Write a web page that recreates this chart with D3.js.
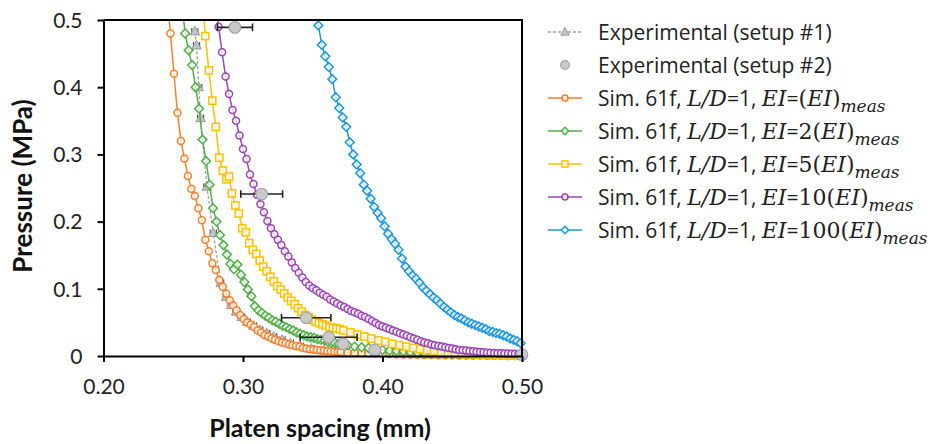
<!DOCTYPE html>
<html><head><meta charset="utf-8">
<script src="https://cdn.jsdelivr.net/npm/d3@7"></script>
<style>body{margin:0;background:#fff;} svg{display:block;}</style>
</head><body>
<svg id="c" width="933" height="444"></svg>
<script>
// ---------------- data ----------------
const xTicks = [0.20, 0.30, 0.40, 0.50];
const yTicks = [0, 0.1, 0.2, 0.3, 0.4, 0.5];
const xTitle = "Platen spacing (mm)";
const yTitle = "Pressure (MPa)";

// Experimental setup #1: [spacing, pressure, +/- spacing error]
const setup1 = [
 [0.2655,0.483,0.0022],[0.2667,0.462,0.0022],[0.2683,0.400,0.0022],[0.2696,0.354,0.0022],
 [0.2741,0.252,0.0022],[0.2787,0.183,0.0022],[0.2840,0.109,0.0022],[0.2880,0.088,0.0022],
 [0.2915,0.076,0.0022],[0.2950,0.066,0.0022],[0.2990,0.058,0.0022],[0.3030,0.051,0.0022],
 [0.3075,0.045,0.0022],[0.3120,0.039,0.0022],[0.3170,0.034,0.0022],[0.3220,0.029,0.0022],
 [0.3280,0.024,0.0022],[0.3340,0.019,0.0022],[0.3410,0.015,0.0022],[0.3490,0.011,0.0022],
 [0.3580,0.008,0.0022],[0.3680,0.005,0.0022]
];
// Experimental setup #2: [spacing, pressure, +/- spacing error]
const setup2 = [
 [0.2942,0.489,0.0126],[0.3134,0.241,0.0150],[0.3453,0.057,0.0177],[0.3614,0.028,0.0204],
 [0.3717,0.018,0],[0.3945,0.009,0],[0.5000,0.002,0]
];

const simOrange = [
 [0.2455,0.535],[0.2480,0.480],[0.2505,0.420],[0.2530,0.362],[0.2555,0.320],[0.2580,0.294],
 [0.2605,0.268],[0.2630,0.249],[0.2655,0.238],[0.2680,0.220],[0.2705,0.202],[0.2730,0.173],
 [0.2755,0.156],[0.2780,0.138],[0.2805,0.128],[0.2830,0.113],[0.2855,0.103],[0.2880,0.093],
 [0.2905,0.083],[0.2930,0.075],[0.2955,0.068],[0.2980,0.061],[0.3005,0.055],[0.3030,0.050],
 [0.3055,0.047],[0.3080,0.043],[0.3105,0.038],[0.3130,0.035],[0.3155,0.031],[0.3180,0.029],
 [0.3205,0.026],[0.3230,0.024],[0.3255,0.022],[0.3280,0.020],[0.3305,0.019],[0.3330,0.017],
 [0.3355,0.016],[0.3380,0.015],[0.3405,0.014],[0.3430,0.012],[0.3455,0.011],[0.3480,0.010],
 [0.3505,0.0095],[0.3530,0.009],[0.3555,0.0085],[0.3580,0.008],[0.3605,0.0075],[0.3630,0.007],
 [0.3655,0.0065],[0.3680,0.006],[0.3700,0.0058],[0.3750,0.0053],[0.3800,0.0048],[0.3850,0.0043],
 [0.3900,0.004],[0.3950,0.0036],[0.4000,0.0032],[0.4050,0.0029],[0.4100,0.0026],[0.4150,0.0023],
 [0.4200,0.002],[0.4250,0.0018],[0.4300,0.0016],[0.4350,0.0014],[0.4400,0.0013],[0.4450,0.0011],
 [0.4500,0.001],[0.4550,0.0009],[0.4600,0.0008],[0.4650,0.0007],[0.4700,0.0006],[0.4750,0.0005],
 [0.4800,0.0005],[0.4850,0.0004],[0.4900,0.0004],[0.4950,0.0003],[0.5000,0.0003]
];
const simGreen = [
 [0.2560,0.530],[0.2585,0.480],[0.2610,0.455],[0.2635,0.433],[0.2660,0.400],[0.2685,0.368],
 [0.2710,0.322],[0.2735,0.290],[0.2760,0.255],[0.2785,0.220],[0.2810,0.200],[0.2835,0.180],
 [0.2860,0.165],[0.2885,0.151],[0.2910,0.137],[0.2935,0.129],[0.2960,0.136],[0.2985,0.121],
 [0.3010,0.110],[0.3035,0.099],[0.3060,0.089],[0.3085,0.074],[0.3110,0.068],[0.3135,0.064],
 [0.3160,0.060],[0.3185,0.057],[0.3210,0.053],[0.3235,0.051],[0.3260,0.048],[0.3285,0.045],
 [0.3310,0.043],[0.3335,0.040],[0.3360,0.038],[0.3385,0.035],[0.3410,0.033],[0.3435,0.031],
 [0.3460,0.029],[0.3485,0.028],[0.3510,0.027],[0.3535,0.025],[0.3560,0.024],[0.3585,0.023],
 [0.3610,0.021],[0.3635,0.020],[0.3660,0.019],[0.3685,0.018],[0.3710,0.017],[0.3750,0.016],
 [0.3800,0.014],[0.3850,0.013],[0.3900,0.012],[0.3950,0.010],[0.4000,0.009],[0.4050,0.008],
 [0.4100,0.0075],[0.4150,0.007],[0.4200,0.006],[0.4250,0.0055],[0.4300,0.005],[0.4350,0.0045],
 [0.4400,0.004],[0.4450,0.0035],[0.4500,0.003],[0.4550,0.0028],[0.4600,0.0025],[0.4650,0.0022],
 [0.4700,0.002],[0.4750,0.0018],[0.4800,0.0015],[0.4850,0.0013],[0.4900,0.0012],[0.4950,0.0011],
 [0.5000,0.001]
];
const simYellow = [
 [0.2710,0.530],[0.2730,0.476],[0.2755,0.425],[0.2780,0.380],[0.2805,0.341],[0.2830,0.295],
 [0.2855,0.276],[0.2880,0.263],[0.2900,0.267],[0.2920,0.242],[0.2945,0.224],[0.2970,0.212],
 [0.2995,0.190],[0.3020,0.184],[0.3045,0.168],[0.3070,0.158],[0.3095,0.152],[0.3120,0.142],
 [0.3145,0.133],[0.3170,0.126],[0.3195,0.118],[0.3220,0.111],[0.3245,0.104],[0.3270,0.099],
 [0.3295,0.093],[0.3320,0.087],[0.3345,0.082],[0.3370,0.077],[0.3395,0.071],[0.3420,0.066],
 [0.3445,0.061],[0.3470,0.058],[0.3495,0.054],[0.3520,0.051],[0.3545,0.049],[0.3570,0.047],
 [0.3595,0.045],[0.3620,0.043],[0.3645,0.042],[0.3670,0.041],[0.3695,0.040],[0.3720,0.038],
 [0.3770,0.035],[0.3820,0.032],[0.3870,0.029],[0.3920,0.026],[0.3970,0.023],[0.4020,0.021],
 [0.4070,0.018],[0.4120,0.016],[0.4170,0.014],[0.4220,0.012],[0.4270,0.010],[0.4320,0.0085],
 [0.4370,0.007],[0.4420,0.0058],[0.4470,0.0047],[0.4520,0.0038],[0.4570,0.003],[0.4620,0.0025],
 [0.4670,0.002],[0.4720,0.0016],[0.4770,0.0013],[0.4820,0.001],[0.4870,0.0008],[0.4920,0.0007],
 [0.4970,0.0006],[0.5000,0.0005]
];
const simPurple = [
 [0.2800,0.530],[0.2825,0.490],[0.2850,0.452],[0.2875,0.416],[0.2900,0.390],[0.2925,0.366],
 [0.2950,0.350],[0.2975,0.328],[0.3000,0.308],[0.3025,0.293],[0.3050,0.270],[0.3075,0.256],
 [0.3100,0.240],[0.3125,0.226],[0.3150,0.214],[0.3175,0.201],[0.3200,0.190],[0.3225,0.181],
 [0.3250,0.173],[0.3275,0.165],[0.3300,0.156],[0.3325,0.148],[0.3350,0.139],[0.3375,0.131],
 [0.3400,0.124],[0.3425,0.117],[0.3450,0.110],[0.3475,0.105],[0.3500,0.101],[0.3525,0.098],
 [0.3550,0.094],[0.3575,0.091],[0.3600,0.088],[0.3625,0.084],[0.3650,0.081],[0.3675,0.078],
 [0.3700,0.075],[0.3725,0.073],[0.3750,0.070],[0.3775,0.067],[0.3800,0.065],[0.3825,0.063],
 [0.3850,0.060],[0.3875,0.058],[0.3900,0.055],[0.3925,0.052],[0.3950,0.049],[0.3975,0.046],
 [0.4000,0.044],[0.4025,0.042],[0.4050,0.040],[0.4075,0.038],[0.4100,0.036],[0.4125,0.034],
 [0.4150,0.032],[0.4175,0.030],[0.4200,0.028],[0.4225,0.026],[0.4250,0.024],[0.4275,0.022],
 [0.4300,0.020],[0.4325,0.019],[0.4350,0.017],[0.4375,0.016],[0.4400,0.015],[0.4425,0.014],
 [0.4450,0.013],[0.4475,0.012],[0.4500,0.011],[0.4525,0.010],[0.4550,0.009],[0.4575,0.0085],
 [0.4600,0.008],[0.4625,0.0075],[0.4650,0.007],[0.4675,0.0065],[0.4700,0.006],[0.4725,0.0055],
 [0.4750,0.005],[0.4775,0.0048],[0.4800,0.0045],[0.4825,0.0042],[0.4850,0.004],[0.4875,0.0038],
 [0.4900,0.0036],[0.4925,0.0034],[0.4950,0.0032],[0.4975,0.003],[0.5000,0.003]
];
const simBlue = [
 [0.3515,0.520],[0.3540,0.492],[0.3565,0.463],[0.3590,0.446],[0.3615,0.430],[0.3640,0.412],
 [0.3665,0.385],[0.3690,0.369],[0.3715,0.355],[0.3740,0.341],[0.3765,0.318],[0.3790,0.300],
 [0.3815,0.285],[0.3840,0.272],[0.3865,0.255],[0.3890,0.246],[0.3915,0.234],[0.3940,0.222],
 [0.3965,0.213],[0.3990,0.205],[0.4015,0.193],[0.4040,0.182],[0.4065,0.174],[0.4090,0.167],
 [0.4115,0.158],[0.4140,0.145],[0.4165,0.133],[0.4190,0.126],[0.4215,0.120],[0.4240,0.115],
 [0.4265,0.109],[0.4290,0.102],[0.4315,0.097],[0.4340,0.092],[0.4365,0.087],[0.4390,0.083],
 [0.4415,0.078],[0.4440,0.073],[0.4465,0.069],[0.4490,0.065],[0.4515,0.061],[0.4540,0.058],
 [0.4565,0.056],[0.4590,0.053],[0.4615,0.050],[0.4640,0.048],[0.4665,0.046],[0.4690,0.044],
 [0.4715,0.042],[0.4740,0.040],[0.4765,0.037],[0.4790,0.036],[0.4815,0.034],[0.4840,0.033],
 [0.4865,0.031],[0.4890,0.029],[0.4915,0.026],[0.4940,0.024],[0.4965,0.022],[0.4990,0.019]
];
const simFactors = ["", "2", "5", "10", "100"];
const simNames = ["Sim. 61f, ", "Sim. 61f, ", "Sim. 61f, ", "Sim. 61f, ", "Sim. 61f, "];
const expNames = ["Experimental (setup #1)", "Experimental (setup #2)"];

// ---------------- drawing ----------------
const svg = d3.select("#c");
svg.append("rect").attr("width",933).attr("height",444).attr("fill","#fff");
const x = d3.scaleLinear().domain([0.2,0.5]).range([103.5,522]);
const y = d3.scaleLinear().domain([0,0.5]).range([356,20]);
const sans = "Lato, 'Open Sans', sans-serif";
const lsans = "'Open Sans', Lato, sans-serif";
const serif = "'DejaVu Serif', 'Liberation Serif', serif";

svg.append("defs").append("clipPath").attr("id","clip")
  .append("rect").attr("x",0).attr("y",20).attr("width",933).attr("height",424);

const colors = ["#F7812B","#52AE48","#FFC000","#9A46B4","#1C97DE"];
const shapes = ["circle","diamond","square","circle","diamond"];
const sims = [simOrange, simGreen, simYellow, simPurple, simBlue];

function drawMarker(g, shape, color, cx, cy, scale){
  scale = scale || 1;
  if (shape === "circle") {
    g.append("circle").attr("cx",cx).attr("cy",cy).attr("r",3.5*scale)
     .attr("fill","#fff").attr("fill-opacity",0.75).attr("stroke",color).attr("stroke-width",1.5);
  } else if (shape === "diamond") {
    const r = 4.4*scale;
    g.append("path").attr("d",`M${cx},${cy-r}L${cx+r},${cy}L${cx},${cy+r}L${cx-r},${cy}Z`)
     .attr("fill","#fff").attr("fill-opacity",0.75).attr("stroke",color).attr("stroke-width",1.5);
  } else if (shape === "square") {
    const s = 3.6*scale;
    g.append("rect").attr("x",cx-s).attr("y",cy-s).attr("width",2*s).attr("height",2*s)
     .attr("fill","#fff").attr("fill-opacity",0.75).attr("stroke",color).attr("stroke-width",1.5);
  } else if (shape === "triangle") {
    const r = 5*scale;
    g.append("path").attr("d",`M${cx},${cy-r}L${cx+r*0.95},${cy+r*0.7}L${cx-r*0.95},${cy+r*0.7}Z`)
     .attr("fill","#c4c4c4").attr("stroke","#999").attr("stroke-width",1);
  } else if (shape === "bigcircle") {
    g.append("circle").attr("cx",cx).attr("cy",cy).attr("r",5.8*scale)
     .attr("fill","#c9c9c9").attr("stroke","#a3a3a3").attr("stroke-width",1.2);
  }
}

const plot = svg.append("g").attr("clip-path","url(#clip)");
const line = d3.line().x(d=>x(d[0])).y(d=>y(d[1]));

// setup #1 (dashed grey with triangles and small error bars)
const g1 = plot.append("g");
g1.append("path").datum(setup1).attr("d",line).attr("fill","none")
  .attr("stroke","#a0a0a0").attr("stroke-width",1.3).attr("stroke-dasharray","3,2");
setup1.forEach(d=>{
  const cy = y(d[1]);
  g1.append("line").attr("x1",x(d[0]-d[2])).attr("x2",x(d[0]+d[2])).attr("y1",cy).attr("y2",cy)
    .attr("stroke","#444").attr("stroke-width",1.1);
  [d[0]-d[2], d[0]+d[2]].forEach(e=>g1.append("line").attr("x1",x(e)).attr("x2",x(e))
    .attr("y1",cy-3.5).attr("y2",cy+3.5).attr("stroke","#444").attr("stroke-width",1.1));
  drawMarker(g1,"triangle",null,x(d[0]),cy,1);
});

// simulations
sims.forEach((s,i)=>{
  const g = plot.append("g");
  g.append("path").datum(s).attr("d",line).attr("fill","none")
    .attr("stroke",colors[i]).attr("stroke-width",1.5);
  s.forEach(d=>drawMarker(g,shapes[i],colors[i],x(d[0]),y(d[1]),1));
});

// setup #2 (big grey circles with error bars)
const g2 = svg.append("g");
setup2.forEach(d=>{
  const cy = y(d[1]);
  if (d[2] > 0) {
    g2.append("line").attr("x1",x(d[0]-d[2])).attr("x2",x(d[0]+d[2])).attr("y1",cy).attr("y2",cy)
      .attr("stroke","#222").attr("stroke-width",1.6);
    [d[0]-d[2], d[0]+d[2]].forEach(e=>g2.append("line").attr("x1",x(e)).attr("x2",x(e))
      .attr("y1",cy-3.8).attr("y2",cy+3.8).attr("stroke","#222").attr("stroke-width",1.6));
  }
});
setup2.forEach(d=>drawMarker(g2,"bigcircle",null,x(d[0]),y(d[1]),1));

// axes
const xAxis = svg.append("g").attr("transform","translate(0,356)")
  .call(d3.axisBottom(x).tickValues(xTicks).tickSize(6).tickSizeOuter(0).tickFormat(d3.format(".2f")));
const yAxis = svg.append("g").attr("transform","translate(103.5,0)")
  .call(d3.axisLeft(y).tickValues(yTicks).tickSize(6).tickSizeOuter(0)
    .tickFormat(d=> d===0 ? "0" : d3.format(".1f")(d)));
[xAxis,yAxis].forEach(a=>{
  a.select(".domain").attr("stroke","#000").attr("stroke-width",2);
  a.selectAll(".tick line").attr("stroke","#000").attr("stroke-width",2);
  a.selectAll(".tick text").attr("fill","#222").style("font-family",sans).style("font-size","21px");
});
xAxis.selectAll(".tick text").attr("y",31).attr("dy","0.35em");
yAxis.selectAll(".tick text").attr("x",-21).attr("dy","0.35em");
// frame top and right
svg.append("line").attr("x1",103.5).attr("x2",522).attr("y1",20).attr("y2",20)
  .attr("stroke","#000").attr("stroke-width",2);
svg.append("line").attr("x1",522).attr("x2",522).attr("y1",19).attr("y2",356)
  .attr("stroke","#000").attr("stroke-width",2);

// titles
svg.append("text").attr("x",320).attr("y",437).attr("text-anchor","middle")
  .style("font-family",sans).style("font-weight","bold").style("font-size","25px").attr("fill","#111")
  .text(xTitle);
svg.append("text").attr("transform","translate(32,186) rotate(-90)").attr("text-anchor","middle")
  .style("font-family",sans).style("font-weight","bold").style("font-size","26px").attr("fill","#111")
  .text(yTitle);

// legend
const lg = svg.append("g");
const rowY = i => 32 + i*33;
const tx = 598;
lg.append("line").attr("x1",548).attr("x2",582).attr("y1",rowY(0)).attr("y2",rowY(0))
  .attr("stroke","#a0a0a0").attr("stroke-width",1.3).attr("stroke-dasharray","3,2");
drawMarker(lg,"triangle",null,565,rowY(0),0.9);
drawMarker(lg,"bigcircle",null,565,rowY(1),0.75);
expNames.forEach((n,i)=>{
  lg.append("text").attr("x",tx).attr("y",rowY(i)).attr("dy","0.36em")
    .style("font-family",lsans).style("font-size","21px").attr("fill","#222").text(n);
});
sims.forEach((s,i)=>{
  const ry = rowY(i+2);
  lg.append("line").attr("x1",548).attr("x2",582).attr("y1",ry).attr("y2",ry)
    .attr("stroke",colors[i]).attr("stroke-width",1.5);
  drawMarker(lg,shapes[i],colors[i],565,ry,0.85);
  const t = lg.append("text").attr("x",tx).attr("y",ry).attr("dy","0.36em")
    .style("font-size","21px").attr("fill","#222");
  t.append("tspan").style("font-family",lsans).text(simNames[i]);
  t.append("tspan").style("font-family",serif).style("font-style","italic").style("font-size","22px").text("L/D");
  t.append("tspan").style("font-family",lsans).text("=1, ");
  t.append("tspan").style("font-family",serif).style("font-style","italic").style("font-size","22px").text("EI");
  t.append("tspan").style("font-family",lsans).text("=");
  t.append("tspan").style("font-family",serif).style("font-size","22px").text(simFactors[i]+"(");
  t.append("tspan").style("font-family",serif).style("font-style","italic").style("font-size","22px").text("EI");
  t.append("tspan").style("font-family",serif).style("font-size","22px").text(")");
  t.append("tspan").style("font-family",serif).style("font-style","italic").style("font-size","17px")
    .attr("dy","6").text("meas");
});
</script>
</body></html>
